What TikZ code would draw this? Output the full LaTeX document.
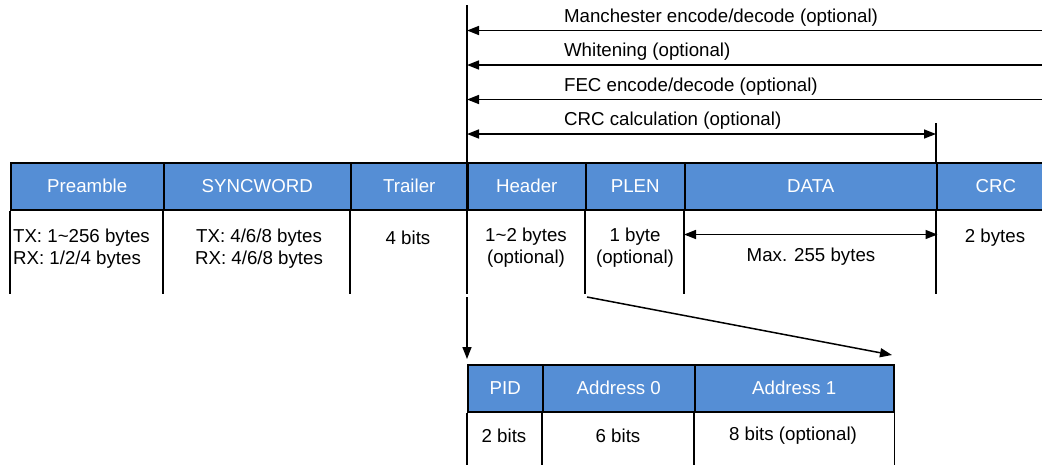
\documentclass[tikz,border=0pt]{standalone}
\usepackage{fontspec}
\setmainfont{Liberation Sans}
\usetikzlibrary{arrows.meta}
\definecolor{fieldblue}{RGB}{85,142,213}

\begin{document}
\begin{tikzpicture}[x=1pt, y=-1pt, line width=1.5pt,
    every node/.style={font=\fontsize{18.7}{22}\selectfont},
    field/.style={draw, fill=fieldblue, text=white, inner sep=0pt, minimum height=47pt, anchor=north west},
    tip/.style={-{Triangle[length=12pt,width=9pt]}},
    tips/.style={{Triangle[length=12pt,width=9pt]}-{Triangle[length=12pt,width=9pt]}}]
\useasboundingbox (0,0) rectangle (1042,464);
\foreach \a/\b/\t/\n in {10/163/Preamble/pre, 163/350/SYNCWORD/sync, 350/467/Trailer/trl, 467/585/Header/hdr, 585/684/PLEN/plen, 684/936/DATA/data, 936/1054/CRC/crc}
  {\node[field, minimum width={(\b-\a)*1pt}] (\n) at (\a,162) {\t};
   \draw (\n.south west) -- ++(0,83);}
\node[anchor=west, align=left] (pretx) at (9,249) {TX: 1\textasciitilde256 bytes\\RX: 1/2/4 bytes};
\node[align=center] (synctx) at (259,249) {TX: 4/6/8 bytes\\RX: 4/6/8 bytes};
\node (trltx) at (408,238) {4 bits};
\node[align=center] (hdrtx) at (526,248) {1\textasciitilde2 bytes\\(optional)};
\node[align=center] (plentx) at (635,248) {1 byte\\(optional)};
\node (datatx) at (811,257) {Max. 255 bytes};
\node (crctx) at (995,238) {2 bytes};
\draw[tips] ([yshift=-24pt]data.south west) -- ([yshift=-24pt]data.south east);
\coordinate (top) at (467,5);
\coordinate (hdrend) at (467,292);
\draw (top) -- (hdrend);
\foreach \y/\t in {30.5/{Manchester encode/decode (optional)}, 65/{Whitening (optional)}, 99.5/{FEC encode/decode (optional)}}
  {\coordinate (r) at (1050,\y);
   \coordinate (l) at (467,\y);
   \draw[tip] (r) -- (l);
   \node[anchor=west] at (560,\y-13) {\t};}
\coordinate (crctop) at (936,123);
\draw (crctop) -- (crc.north west);
\coordinate (crcl) at (467,134);
\coordinate (crcr) at (936,134);
\draw[tips] (crcl) -- (crcr);
\node[anchor=west] (crclbl) at (560,121) {CRC calculation (optional)};
\foreach \a/\b/\t/\n in {467/542/PID/pid, 542/694/Address 0/adra, 694/893/Address 1/adrb}
  {\node[field, minimum width={(\b-\a)*1pt}] (\n) at (\a,364) {\t};
   \draw (\n.south west) -- ++(0,60);}
\draw (adrb.south east) -- ++(0,60);
\node (pidtx) at (504,436) {2 bits};
\node (adratx) at (618,436) {6 bits};
\node (adrbtx) at (793,436) {8 bits (optional)};
\coordinate (hdrsplit) at (467,297);
\draw[tip, shorten >=5pt] (hdrsplit) -- (pid.north west);
\coordinate (plensplit) at (587,297);
\coordinate (adrend) at (892,355);
\draw[tip] (plensplit) -- (adrend);
\end{tikzpicture}
\end{document}
